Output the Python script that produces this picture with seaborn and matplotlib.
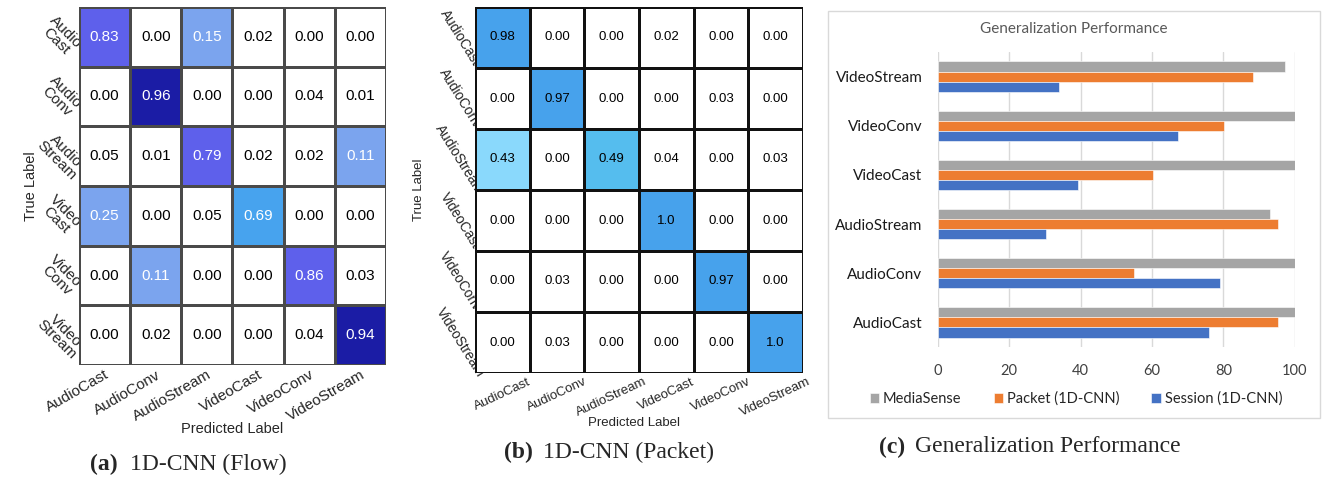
import numpy as np
import pandas as pd
import seaborn as sns
import matplotlib.pyplot as plt
from matplotlib.colors import ListedColormap, BoundaryNorm
from matplotlib.patches import Rectangle

classes = ["AudioCast", "AudioConv", "AudioStream", "VideoCast", "VideoConv", "VideoStream"]
flow_rows = ["Audio\nCast", "Audio\nConv", "Audio\nStream", "Video\nCast", "Video\nConv", "Video\nStream"]

flow_cm = [
    [0.83, 0.00, 0.15, 0.02, 0.00, 0.00],
    [0.00, 0.96, 0.00, 0.00, 0.04, 0.01],
    [0.05, 0.01, 0.79, 0.02, 0.02, 0.11],
    [0.25, 0.00, 0.05, 0.69, 0.00, 0.00],
    [0.00, 0.11, 0.00, 0.00, 0.86, 0.03],
    [0.00, 0.02, 0.00, 0.00, 0.04, 0.94],
]
packet_cm = [
    [0.98, 0.00, 0.00, 0.02, 0.00, 0.00],
    [0.00, 0.97, 0.00, 0.00, 0.03, 0.00],
    [0.43, 0.00, 0.49, 0.04, 0.00, 0.03],
    [0.00, 0.00, 0.00, 1.00, 0.00, 0.00],
    [0.00, 0.03, 0.00, 0.00, 0.97, 0.00],
    [0.00, 0.03, 0.00, 0.00, 0.00, 1.00],
]

bar_cats = ["VideoStream", "VideoConv", "VideoCast", "AudioStream", "AudioConv", "AudioCast"]
mediasense = [97.3, 100, 100, 93.2, 100, 100]
packet_acc = [88.2, 80.1, 60.2, 95.2, 55.0, 95.2]
session_acc = [34.0, 67.2, 39.3, 30.3, 79.2, 75.9]
series_names = ["MediaSense", "Packet (1D-CNN)", "Session (1D-CNN)"]


def cell_labels(cm):
    return np.array([["1.0" if v == 1 else f"{v:.2f}" for v in row] for row in cm])


sns.set_theme(style="white")
plt.rcParams["font.family"] = ["Liberation Sans", "DejaVu Sans"]

W, H = 1333, 479
fig = plt.figure(figsize=(W / 100, H / 100), dpi=100)


def px_axes(x0, y0, x1, y1):
    return fig.add_axes([x0 / W, 1 - y1 / H, (x1 - x0) / W, (y1 - y0) / H])


# (a) flow confusion matrix
ax1 = px_axes(79, 7, 386, 365)
cmap_a = ListedColormap(["#ffffff", "#7ba4ee", "#47a3ee", "#5e60eb", "#1b1ca5"])
norm_a = BoundaryNorm([0, 0.1, 0.5, 0.75, 0.9, 1.01], cmap_a.N)
df_a = pd.DataFrame(flow_cm, index=flow_rows, columns=classes)
sns.heatmap(df_a, annot=cell_labels(flow_cm), fmt="", cmap=cmap_a, norm=norm_a,
            vmin=0, vmax=1.01, cbar=False, linewidths=0.8, linecolor="#4a4a4a",
            annot_kws={"fontsize": 11}, ax=ax1)
vals_a = np.array(flow_cm).ravel()
for t, v in zip(ax1.texts, vals_a):
    t.set_color("white" if v >= 0.1 else "black")
ax1.tick_params(length=0, pad=2)
ax1.set_xticklabels(classes, rotation=30, ha="right", rotation_mode="anchor", fontsize=11)
ax1.set_yticklabels(flow_rows, rotation=-45, ha="center", va="center", fontsize=11,
                    linespacing=0.95)
ax1.tick_params(axis="y", pad=13)
ax1.set_xlabel("Predicted Label", fontsize=10.5)
ax1.set_ylabel("True Label", fontsize=10.5)
ax1.xaxis.set_label_coords(0.5, -0.16)
ax1.yaxis.set_label_coords(-0.134, 0.5)

# (b) packet confusion matrix
ax2 = px_axes(475, 7, 803, 373)
cmap_b = ListedColormap(["#ffffff", "#8ad9fc", "#55bdee", "#47a2ec"])
norm_b = BoundaryNorm([0, 0.1, 0.45, 0.6, 1.01], cmap_b.N)
df_b = pd.DataFrame(packet_cm, index=classes, columns=classes)
sns.heatmap(df_b, annot=cell_labels(packet_cm), fmt="", cmap=cmap_b, norm=norm_b,
            vmin=0, vmax=1.01, cbar=False, linewidths=0.8, linecolor="#111111",
            annot_kws={"fontsize": 9.5, "color": "black"}, ax=ax2)
for t in ax2.texts:
    t.set_color("black")
ax2.tick_params(length=0, pad=2)
ax2.set_xticklabels(classes, rotation=25, ha="center", fontsize=9.5)
ax2.set_yticklabels(classes, rotation=-58, ha="center", va="center", fontsize=9.8)
ax2.tick_params(axis="y", pad=11)
ax2.set_xlabel("Predicted Label", fontsize=9.5)
ax2.set_ylabel("True Label", fontsize=9.5)
ax2.xaxis.set_label_coords(0.485, -0.12)
ax2.yaxis.set_label_coords(-0.152, 0.5)

# (c) generalization bar chart
calibri = ["Lato", "DejaVu Sans"]
ax3 = px_axes(937.7, 52, 1294.7, 347)
df_c = pd.DataFrame({
    "category": bar_cats * 3,
    "value": mediasense + packet_acc + session_acc,
    "series": [s for s in series_names for _ in bar_cats],
})
sns.barplot(data=df_c, x="value", y="category", hue="series", order=bar_cats,
            hue_order=series_names, orient="h", width=0.62, saturation=1,
            palette=["#a5a5a5", "#ed7d31", "#4472c4"], edgecolor="white",
            linewidth=0.4, ax=ax3)
ax3.set_xlim(0, 100)
ax3.set_xticks(range(0, 101, 20))
ax3.set_axisbelow(True)
ax3.grid(axis="x", color="#d9d9d9", linewidth=1)
for s in ax3.spines.values():
    s.set_visible(False)
ax3.set_xlabel("")
ax3.set_ylabel("")
ax3.tick_params(length=0)
ax3.tick_params(axis="y", pad=11)
ax3.tick_params(axis="x", pad=12, colors="#404040")
for lab in ax3.get_yticklabels():
    lab.set_family(calibri)
    lab.set_fontsize(11)
    lab.set_color("#1a1a1a")
for lab in ax3.get_xticklabels():
    lab.set_family(calibri)
    lab.set_fontsize(10.5)
handles, labels = ax3.get_legend_handles_labels()
ax3.get_legend().remove()
fig.legend(handles, labels, loc="center", bbox_to_anchor=(1076 / W, 1 - 399 / H),
           ncol=3, frameon=False, handlelength=0.65, handleheight=0.65,
           handletextpad=0.25, columnspacing=2.2,
           prop={"family": calibri, "size": 10.5})
fig.text(1074 / W, 1 - 29 / H, "Generalization Performance", ha="center", va="center",
         fontsize=11, color="#595959", family=calibri)
fig.patches.append(Rectangle((828 / W, 1 - 418 / H), 492 / W, 407 / H,
                             transform=fig.transFigure, fill=False,
                             edgecolor="#d9d9d9", linewidth=1))

# captions
serif = ["Liberation Serif", "DejaVu Serif"]
captions = [
    ("(a)", "1D-CNN (Flow)", 118, 130, 464),
    ("(b)", "1D-CNN (Packet)", 533, 543, 452),
    ("(c)", "Generalization Performance", 905, 915, 447),
]
for tag, text, xr, xl, yc in captions:
    fig.text(xr / W, 1 - yc / H, tag, ha="right", va="center", fontsize=17,
             fontweight="bold", family=serif)
    fig.text(xl / W, 1 - yc / H, text, ha="left", va="center", fontsize=17, family=serif)

fig.savefig("out.png", dpi=100)
